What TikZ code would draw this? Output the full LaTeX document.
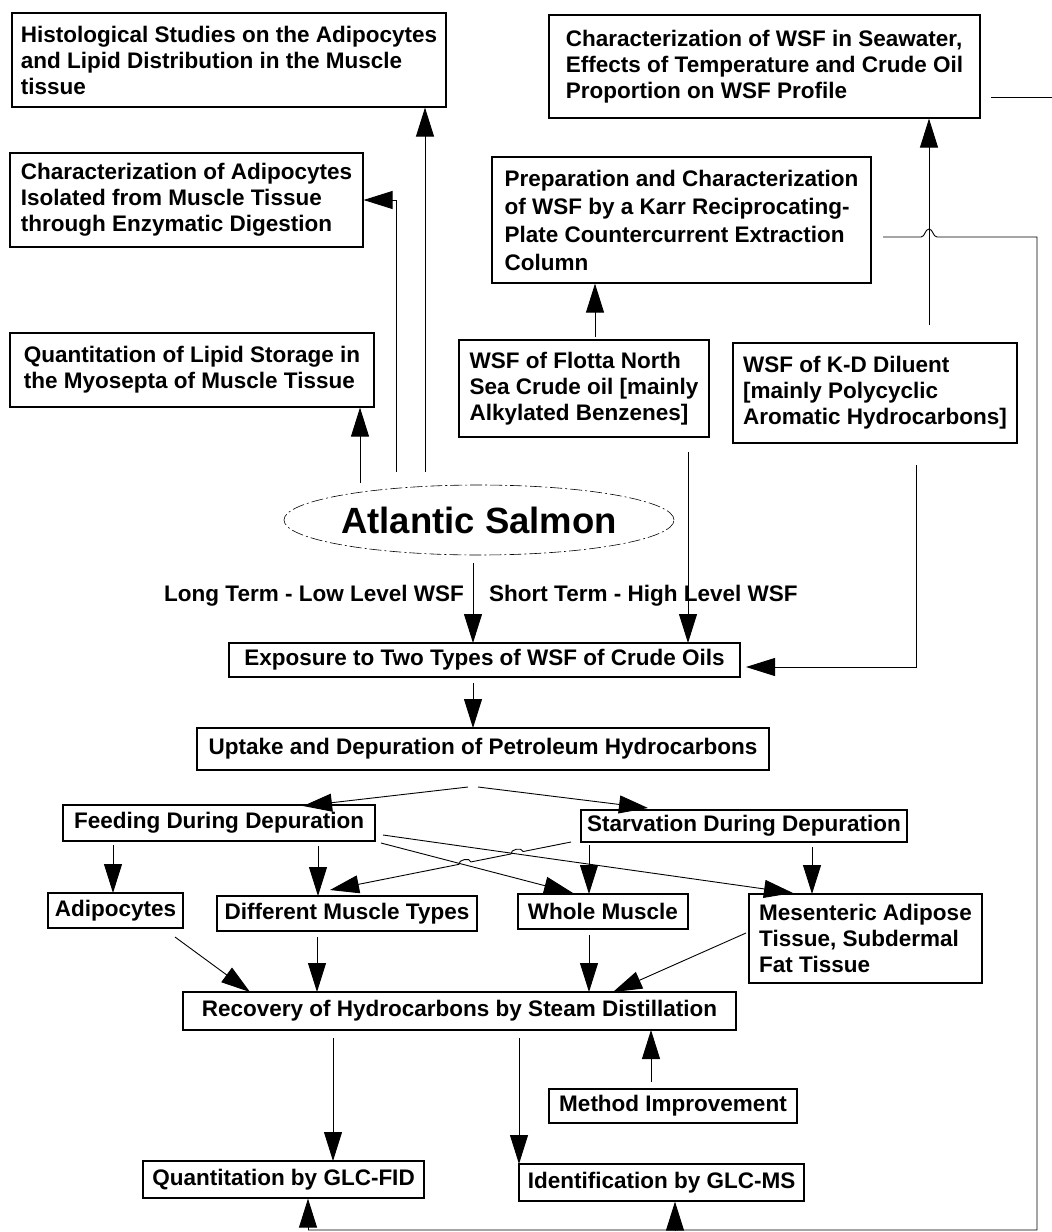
\documentclass[tikz,border=0pt]{standalone}
\usepackage{fontspec}
\setmainfont{Liberation Sans}
\usetikzlibrary{arrows.meta,calc,shapes.geometric}
\begin{document}
\begin{tikzpicture}[x=1pt,y=-1pt,
  box/.style={draw, line width=1.2pt, inner xsep=5pt, inner ysep=2pt,
    font=\bfseries\fontsize{22.5}{26}\selectfont},
  mbox/.style={box, align=left},
  lab/.style={inner sep=0pt, font=\bfseries\fontsize{22.5}{26}\selectfont},
  arr/.style={line width=0.9pt, -{Triangle[length=29pt,width=18pt]}},
  ln/.style={line width=0.9pt}]
\useasboundingbox (0,0) rectangle (1052,1232);

% boxes
\node[mbox, minimum width=434, minimum height=94] (hist) at (229,60)
  {Histological Studies on the Adipocytes\\and Lipid Distribution in the Muscle\\tissue};
\node[mbox, minimum width=353, minimum height=94] (chad) at (186.5,200)
  {Characterization of Adipocytes\\Isolated from Muscle Tissue\\through Enzymatic Digestion};
\node[mbox, minimum width=364, minimum height=74] (qlip) at (192,370)
  {Quantitation of Lipid Storage in\\the Myosepta of Muscle Tissue};
\node[mbox, minimum width=431, minimum height=103] (sea) at (764.5,66.5)
  {Characterization of WSF in Seawater,\\Effects of Temperature and Crude Oil\\Proportion on WSF Profile};
\node[mbox, minimum width=379, minimum height=126, font=\bfseries\fontsize{22.5}{28}\selectfont] (prep) at (681.5,220)
  {Preparation and Characterization\\of WSF by a Karr Reciprocating-\\Plate Countercurrent Extraction\\Column};
\node[mbox, minimum width=250, minimum height=97] (flot) at (584,388.5)
  {WSF of Flotta North\\Sea Crude oil [mainly\\Alkylated Benzenes]};
\node[mbox, minimum width=284, minimum height=100] (kd) at (875,393)
  {WSF of K-D Diluent\\{}[mainly Polycyclic\\Aromatic Hydrocarbons]};

\node[ellipse, draw, line width=0.6pt, dash pattern=on 12pt off 3pt on 2pt off 3pt,
  minimum width=324, minimum height=70, inner sep=0pt,
  font=\bfseries\fontsize{36.5}{40}\selectfont] (sal) at (479,520) {Atlantic Salmon};

\node[lab, anchor=east] (lt) at (464,596) {Long Term - Low Level WSF};
\node[lab, anchor=west] (st) at (489,596) {Short Term - High Level WSF};

\node[box, minimum width=511, minimum height=34] (expo) at (484.5,660)
  {Exposure to Two Types of WSF of Crude Oils};
\node[box, minimum width=572, minimum height=42] (upt) at (483,749)
  {Uptake and Depuration of Petroleum Hydrocarbons};
\node[box, minimum width=312, minimum height=36] (feed) at (219,823)
  {Feeding During Depuration};
\node[box, minimum width=326, minimum height=32] (starv) at (744,826)
  {Starvation During Depuration};
\node[box, minimum width=135, minimum height=35] (adip) at (115.5,910.5) {Adipocytes};
\node[box, minimum width=260, minimum height=35] (diff) at (347,913.5) {Different Muscle Types};
\node[box, minimum width=170, minimum height=35] (whole) at (603,911.5) {Whole Muscle};
\node[mbox, minimum width=233, minimum height=89] (mes) at (865.5,938.5)
  {Mesenteric Adipose\\Tissue, Subdermal\\Fat Tissue};
\node[box, minimum width=553, minimum height=38] (rec) at (459.5,1011)
  {Recovery of Hydrocarbons by Steam Distillation};
\node[box, minimum width=248, minimum height=34] (meth) at (673,1106) {Method Improvement};
\node[box, minimum width=281, minimum height=37] (fid) at (283.5,1179.5) {Quantitation by GLC-FID};
\node[box, minimum width=285, minimum height=37] (ms) at (661.5,1182.5) {Identification by GLC-MS};

% free ends
\coordinate (s1) at (360,483);
\coordinate (s2) at (396,472);
\coordinate (s3) at (425,472);
\coordinate (s4) at (595,337);
\coordinate (s5) at (929,325);
\coordinate (seaR) at (991,97);
\coordinate (seaE) at (1052,97);
\coordinate (prR) at (883,237);
\coordinate (corner) at (1037,1230);
\coordinate (bl) at (308,1230);
\coordinate (bm) at (675,1230);

% upward connectors from salmon
\draw[arr] (s1) -- (s1 |- qlip.south);
\draw[arr] (s2) -- (396,200) -- (chad.east |- 0,200);
\draw[arr] (s3) -- (s3 |- hist.south);
\draw[arr] (s4) -- (s4 |- prep.south);
\draw[arr] (s5) -- (s5 |- sea.south);
\draw[ln] (seaR) -- (seaE);
\draw[ln] (prR) -- (921,237) .. controls (925,237) and (925,229) .. (929,229)
  .. controls (933,229) and (933,237) .. (937,237) -- (1037,237) -- (corner) -- (bl);
\draw[arr] (bl) -- (bl |- fid.south);
\draw[arr] (bm) -- (bm |- ms.south);

% exposure inputs
\draw[arr] (473,563) -- (473,643);
\draw[arr] (688,452) -- (688,643);
\draw[arr] (916,465) -- (916,667) -- (746,667);
\draw[arr] (473,683) -- (473,728);

% depuration branches
\draw[arr] (468,787) -- (303,806);
\draw[arr] (478,787) -- (648,808);

\draw[arr] (113,845) -- (113 ,893);
\draw[arr] (318,846) -- (318,896);
\draw[arr] (381,843) -- (573,893);
\draw[arr] (383,835) -- (793,893);
\coordinate (sa) at (571,842);
\coordinate (sb) at (330,890);
\draw[arr] (sa) -- ($(sa)!0.199!(sb)$) to[bend right=90] ($(sa)!0.249!(sb)$)
  -- ($(sa)!0.415!(sb)$) to[bend right=90] ($(sa)!0.465!(sb)$) -- (sb);
\draw[arr] (589,845) -- (589,894);
\draw[arr] (812,847) -- (812,894);

% to recovery
\draw[arr] (175,937) -- (250,992);
\draw[arr] (317,937) -- (317,992);
\draw[arr] (589,935) -- (589,992);
\draw[arr] (746,933) -- (613,992);

% from recovery
\draw[arr] (333,1038) -- (333,1161);
\draw[arr] (519,1038) -- (519,1164);
\draw[arr] (651,1082) -- (651,1030);
\end{tikzpicture}
\end{document}
